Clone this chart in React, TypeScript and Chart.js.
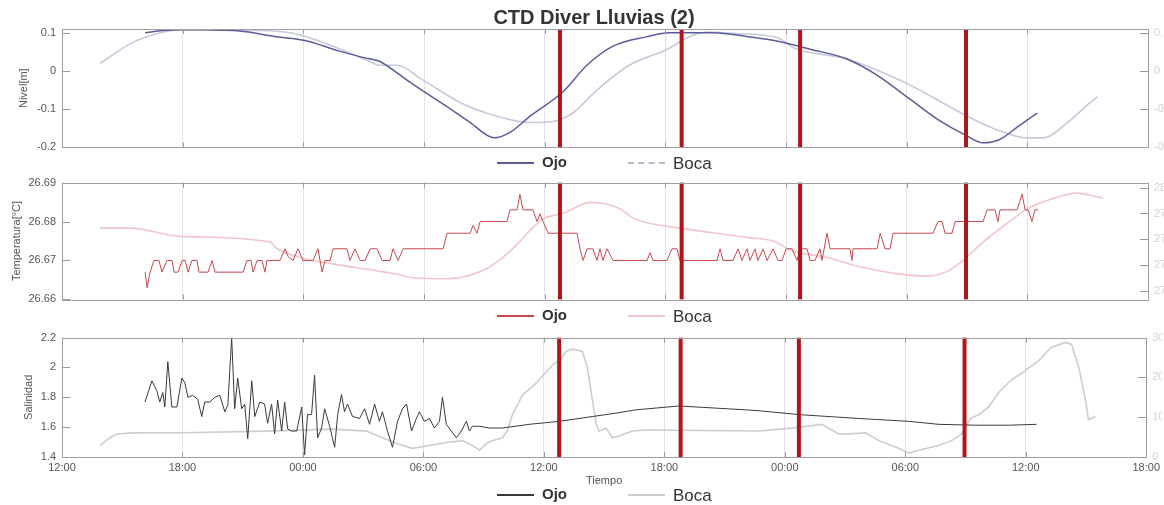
import React, { useEffect, useRef } from 'react';
import { Chart, registerables } from 'chart.js';

Chart.register(...registerables);

type Pt = [number, number];

const FONT = "'Liberation Sans', Arial, sans-serif";

// x axis: hours counted from 12:00 of the first day
const xTickHours = [0, 6, 12, 18, 24, 30, 36, 42, 48, 54];
const xTickLabels = ['12:00', '18:00', '00:00', '06:00', '12:00', '18:00', '00:00', '06:00', '12:00', '18:00'];
const eventHours = [24.76, 30.81, 36.7, 44.95];

const chartTitle = 'CTD Diver Lluvias (2)';
const legendOjo = 'Ojo';
const legendBoca = 'Boca';

// ---- Nivel ----
const nivelTicks = [-0.2, -0.1, 0, 0.1];
const nivelTickLabels = ['-0.2', '-0.1', '0', '0.1'];
const nivelOjo: Pt[] = [
  [4.13, 0.1], [5.0, 0.106], [6.0, 0.108], [7.0, 0.108], [8.95, 0.104], [10.64, 0.09], [12.08, 0.08],
  [13.8, 0.052], [15.0, 0.035], [15.81, 0.025], [16.66, -0.005], [17.46, -0.035], [19.14, -0.093],
  [20.3, -0.135], [21.5, -0.175], [22.3, -0.16], [23.3, -0.117], [24.9, -0.055], [26.1, 0.015],
  [27.4, 0.065], [29.1, 0.09], [30.2, 0.1], [32.4, 0.1], [34.1, 0.09], [35.6, 0.078], [37.2, 0.057],
  [39.0, 0.032], [40.5, -0.01], [42.2, -0.075], [43.5, -0.125], [45.0, -0.17], [45.8, -0.188],
  [46.6, -0.18], [47.6, -0.143], [48.5, -0.11],
];
const nivelBoca: Pt[] = [
  [1.89, 0.02], [3.53, 0.075], [4.9, 0.1], [5.9, 0.108], [8.95, 0.107], [11.34, 0.1], [13.48, 0.065],
  [15.17, 0.028], [15.81, 0.015], [16.66, 0.015], [17.9, -0.022], [19.9, -0.085], [21.6, -0.118],
  [23.3, -0.135], [24.4, -0.132], [25.4, -0.11], [26.6, -0.05], [28.2, 0.015], [30.1, 0.057],
  [31.2, 0.09], [32.1, 0.102], [33.5, 0.098], [35.6, 0.087], [36.4, 0.06], [39.0, 0.032],
  [41.7, -0.025], [43.0, -0.06], [45.0, -0.118], [46.3, -0.15], [48.0, -0.175], [48.8, -0.175],
  [50.0, -0.135], [51.3, -0.075], [51.5, -0.068],
];

// ---- Temperatura ----
const tempTicks = [26.66, 26.67, 26.68, 26.69];
const tempTickLabels = ['26.66', '26.67', '26.68', '26.69'];
const tempBocaTicks = [27.6, 27.7, 27.8, 27.9, 28.0];
const tempBocaTickLabels = ['27.6', '27.7', '27.8', '27.9', '28'];
const tempOjo: Pt[] = [
  [4.13, 26.667], [4.23, 26.663], [4.38, 26.667], [4.57, 26.67], [4.82, 26.67], [4.97, 26.667],
  [5.22, 26.67], [5.47, 26.67], [5.57, 26.667], [5.77, 26.667], [5.97, 26.67], [6.12, 26.67],
  [6.27, 26.667], [6.46, 26.67], [6.71, 26.67], [6.81, 26.667], [7.26, 26.667], [7.46, 26.67],
  [7.61, 26.667], [9.0, 26.667], [9.2, 26.67], [9.4, 26.67], [9.5, 26.667], [9.7, 26.67],
  [9.95, 26.67], [10.09, 26.667], [10.19, 26.67], [10.84, 26.67], [11.09, 26.673], [11.24, 26.671],
  [11.49, 26.67], [11.74, 26.673], [11.98, 26.67], [12.48, 26.67], [12.73, 26.673], [12.93, 26.667],
  [13.08, 26.67], [13.33, 26.67], [13.48, 26.673], [14.17, 26.673], [14.32, 26.67], [14.57, 26.673],
  [14.82, 26.67], [15.07, 26.67], [15.32, 26.673], [15.66, 26.673], [15.91, 26.67], [16.31, 26.67],
  [16.46, 26.673], [16.71, 26.67], [16.96, 26.673], [18.95, 26.673], [19.14, 26.677], [20.29, 26.677],
  [20.44, 26.679], [20.64, 26.677], [20.79, 26.68], [22.13, 26.68], [22.28, 26.683], [22.63, 26.683],
  [22.77, 26.687], [22.92, 26.683], [23.42, 26.683], [23.62, 26.68], [23.77, 26.682], [23.92, 26.68],
  [24.17, 26.677], [25.61, 26.677], [25.76, 26.673], [25.91, 26.67], [26.11, 26.673], [26.4, 26.673],
  [26.6, 26.67], [26.75, 26.673], [26.9, 26.67], [27.1, 26.673], [27.4, 26.67], [29.09, 26.67],
  [29.24, 26.672], [29.39, 26.67], [30.08, 26.67], [30.33, 26.673], [30.58, 26.673], [30.73, 26.67],
  [32.57, 26.67], [32.72, 26.673], [32.87, 26.67], [33.37, 26.67], [33.62, 26.673], [33.81, 26.67],
  [34.06, 26.673], [34.21, 26.67], [34.46, 26.673], [34.61, 26.67], [34.86, 26.673], [35.06, 26.67],
  [35.36, 26.673], [35.6, 26.67], [35.8, 26.67], [36.0, 26.673], [36.3, 26.673], [36.55, 26.67],
  [36.7, 26.673], [37.05, 26.673], [37.2, 26.67], [37.44, 26.67], [37.69, 26.673], [37.79, 26.67],
  [38.04, 26.677], [38.19, 26.673], [39.18, 26.673], [39.28, 26.67], [39.33, 26.673], [40.53, 26.673],
  [40.68, 26.677], [40.92, 26.673], [41.17, 26.673], [41.32, 26.677], [43.31, 26.677], [43.56, 26.68],
  [43.76, 26.68], [43.91, 26.677], [44.26, 26.677], [44.41, 26.68], [45.8, 26.68], [46.0, 26.683],
  [46.39, 26.683], [46.54, 26.68], [46.64, 26.683], [47.49, 26.683], [47.74, 26.687], [47.89, 26.683],
  [48.04, 26.683], [48.23, 26.68], [48.38, 26.683], [48.53, 26.683],
];
const tempBoca: Pt[] = [
  [1.89, 27.843], [3.38, 27.843], [5.87, 27.811], [10.34, 27.789], [10.69, 27.764], [11.84, 27.729],
  [13.48, 27.704], [15.81, 27.675], [16.66, 27.664], [17.46, 27.65], [19.14, 27.646], [20.14, 27.657],
  [21.28, 27.693], [22.43, 27.764], [23.42, 27.846], [23.92, 27.879], [24.62, 27.896], [25.11, 27.907],
  [25.76, 27.932], [26.26, 27.943], [27.1, 27.936], [27.75, 27.918], [28.4, 27.882], [29.09, 27.864],
  [30.73, 27.843], [32.37, 27.825], [34.06, 27.807], [35.36, 27.793], [36.35, 27.754], [38.04, 27.729],
  [39.69, 27.693], [41.32, 27.668], [43.02, 27.657], [44.01, 27.675], [44.81, 27.718], [45.8, 27.789],
  [46.99, 27.861], [47.99, 27.918], [49.13, 27.954], [50.48, 27.979], [51.27, 27.968], [51.77, 27.961],
];

// ---- Salinidad ----
const salTicks = [1.4, 1.6, 1.8, 2.0, 2.2];
const salTickLabels = ['1.4', '1.6', '1.8', '2', '2.2'];
const salBocaTicks = [0, 10, 20, 30];
const salBocaTickLabels = ['0', '10', '20', '30'];
const salOjo: Pt[] = [
  [4.13, 1.768], [4.48, 1.91], [4.72, 1.845], [4.87, 1.768], [5.02, 1.832], [5.12, 1.735], [5.27, 2.039],
  [5.47, 1.735], [5.72, 1.735], [5.97, 1.929], [6.12, 1.897], [6.27, 1.8], [6.51, 1.813], [6.76, 1.787],
  [6.96, 1.671], [7.11, 1.768], [7.36, 1.768], [7.61, 1.8], [7.86, 1.813], [8.11, 1.703], [8.26, 1.748],
  [8.45, 2.2], [8.6, 1.723], [8.75, 1.929], [8.95, 1.723], [9.1, 1.755], [9.25, 1.523], [9.45, 1.91],
  [9.6, 1.671], [9.85, 1.768], [10.09, 1.755], [10.24, 1.626], [10.44, 1.755], [10.59, 1.555],
  [10.74, 1.781], [10.94, 1.574], [11.09, 1.768], [11.24, 1.587], [11.44, 1.574], [11.69, 1.574],
  [11.94, 1.735], [12.08, 1.413], [12.23, 1.684], [12.43, 1.684], [12.58, 1.948], [12.73, 1.529],
  [12.93, 1.594], [13.08, 1.723], [13.33, 1.606], [13.58, 1.465], [13.73, 1.684], [13.92, 1.819],
  [14.07, 1.703], [14.22, 1.755], [14.47, 1.671], [14.82, 1.658], [15.07, 1.723], [15.32, 1.619],
  [15.57, 1.755], [15.81, 1.639], [15.96, 1.703], [16.21, 1.574], [16.46, 1.465], [16.71, 1.639],
  [16.96, 1.723], [17.16, 1.755], [17.41, 1.574], [17.65, 1.658], [17.8, 1.703], [18.05, 1.639],
  [18.3, 1.658], [18.55, 1.594], [18.8, 1.639], [18.95, 1.8], [19.14, 1.619], [19.39, 1.574],
  [19.64, 1.529], [19.89, 1.574], [20.14, 1.639], [20.29, 1.574], [20.44, 1.606], [20.79, 1.606],
  [21.28, 1.594], [21.93, 1.594], [23.27, 1.619], [24.77, 1.639], [26.41, 1.671], [27.4, 1.69],
  [28.59, 1.716], [30.73, 1.742], [32.37, 1.729], [34.06, 1.716], [34.71, 1.71], [36.7, 1.684],
  [39.69, 1.658], [42.17, 1.639], [43.66, 1.619], [45.5, 1.613], [47.14, 1.613], [48.54, 1.619],
];
const salBoca: Pt[] = [
  [1.89, 2.9], [2.39, 4.84], [2.74, 5.8], [3.53, 6.05], [6.0, 6.1], [10.19, 6.5], [13.48, 7.0],
  [15.17, 6.5], [15.96, 4.84], [16.66, 3.39], [17.46, 2.18], [18.3, 2.9], [19.14, 3.63], [19.94, 4.11],
  [20.44, 2.9], [20.79, 1.69], [21.14, 3.39], [21.43, 4.11], [21.93, 4.84], [22.18, 6.53], [22.43, 10.6],
  [22.93, 15.5], [23.62, 18.6], [24.42, 23.0], [24.87, 24.7], [25.11, 26.6], [25.41, 27.1], [25.91, 26.6],
  [26.16, 22.7], [26.41, 14.5], [26.61, 8.2], [26.75, 6.5], [27.1, 7.3], [27.4, 4.84], [27.75, 5.3],
  [28.4, 6.53], [29.09, 6.77], [34.71, 6.53], [36.35, 7.26], [37.84, 8.2], [38.69, 5.8], [39.19, 5.8],
  [40.03, 6.05], [40.68, 4.11], [41.67, 2.18], [42.17, 0.97], [42.67, 1.69], [43.66, 2.9], [44.31, 4.11],
  [44.81, 5.8], [45.25, 9.7], [45.65, 10.6], [46.15, 12.6], [46.65, 16.2], [47.29, 19.4], [47.79, 21.0],
  [48.64, 24.2], [49.28, 27.6], [49.98, 28.8], [50.28, 28.3], [50.63, 22.7], [50.97, 14.5], [51.12, 9.4],
  [51.47, 10.2],
];

interface PanelSpec {
  top: number;
  height: number;
  padTop: number;
  xAxisHeight: number;
  showX: boolean;
  yTitle: string;
  yTitlePad: number;
  yMin: number;
  yMax: number;
  yTicks: number[];
  yLabels: string[];
  rMin: number;
  rMax: number;
  rTicks: number[];
  rLabels: string[];
  ojo: Pt[];
  boca: Pt[];
  ojoColor: string;
  bocaColor: string;
  ojoWidth: number;
  bocaWidth: number;
  ojoSmooth: boolean;
  bocaSmooth: boolean;
}

const panels: PanelSpec[] = [
  {
    top: 0, height: 160, padTop: 29, xAxisHeight: 6, showX: false,
    yTitle: 'Nivel[m]', yTitlePad: 17,
    yMin: -0.2, yMax: 0.11, yTicks: nivelTicks, yLabels: nivelTickLabels,
    rMin: -0.2, rMax: 0.11, rTicks: nivelTicks, rLabels: nivelTickLabels,
    ojo: nivelOjo, boca: nivelBoca, ojoColor: '#5b5b9e', bocaColor: '#c8c8dc',
    ojoWidth: 1.5, bocaWidth: 1.6, ojoSmooth: true, bocaSmooth: true,
  },
  {
    top: 170, height: 142, padTop: 9, xAxisHeight: 6, showX: false,
    yTitle: 'Temperatura[°C]', yTitlePad: 10,
    yMin: 26.66, yMax: 26.69, yTicks: tempTicks, yLabels: tempTickLabels,
    rMin: 27.566, rMax: 28.02, rTicks: tempBocaTicks, rLabels: tempBocaTickLabels,
    ojo: tempOjo, boca: tempBoca, ojoColor: '#c9474f', bocaColor: '#f1c6ca',
    ojoWidth: 1, bocaWidth: 1.6, ojoSmooth: false, bocaSmooth: true,
  },
  {
    top: 325, height: 180, padTop: 8, xAxisHeight: 48, showX: true,
    yTitle: 'Salinidad', yTitlePad: 22,
    yMin: 1.4, yMax: 2.2, yTicks: salTicks, yLabels: salTickLabels,
    rMin: 0, rMax: 30, rTicks: salBocaTicks, rLabels: salBocaTickLabels,
    ojo: salOjo, boca: salBoca, ojoColor: '#3a3a3a', bocaColor: '#cdcdcd',
    ojoWidth: 1, bocaWidth: 1.6, ojoSmooth: false, bocaSmooth: false,
  },
];

const framePlugin = {
  id: 'frame',
  afterDatasetsDraw(chart: any) {
    const { ctx, chartArea, scales } = chart;
    const { left, right, top, bottom } = chartArea;
    ctx.save();
    // event markers
    ctx.strokeStyle = '#b3141c';
    ctx.lineWidth = 4;
    eventHours.forEach((h) => {
      const px = scales.x.getPixelForValue(h);
      ctx.beginPath();
      ctx.moveTo(px, top);
      ctx.lineTo(px, bottom);
      ctx.stroke();
    });
    // inner tick marks
    ctx.strokeStyle = '#9a9a9a';
    ctx.lineWidth = 1;
    scales.y.ticks.forEach((t: any) => {
      const py = Math.round(scales.y.getPixelForValue(t.value)) + 0.5;
      ctx.beginPath();
      ctx.moveTo(left, py);
      ctx.lineTo(left + 8, py);
      ctx.stroke();
    });
    scales.y1.ticks.forEach((t: any) => {
      const py = Math.round(scales.y1.getPixelForValue(t.value)) + 0.5;
      ctx.beginPath();
      ctx.moveTo(right - 8, py);
      ctx.lineTo(right, py);
      ctx.stroke();
    });
    scales.x.ticks.forEach((t: any) => {
      const px = Math.round(scales.x.getPixelForValue(t.value)) + 0.5;
      ctx.beginPath();
      ctx.moveTo(px, top);
      ctx.lineTo(px, top + 5);
      ctx.moveTo(px, bottom);
      ctx.lineTo(px, bottom - 5);
      ctx.stroke();
    });
    // box
    ctx.strokeStyle = '#a0a0a0';
    ctx.strokeRect(Math.round(left) + 0.5, Math.round(top) + 0.5, Math.round(right - left), Math.round(bottom - top));
    ctx.restore();
  },
};

function Panel({ spec }: { spec: PanelSpec }) {
  const ref = useRef<HTMLCanvasElement>(null);
  useEffect(() => {
    if (!ref.current) return;
    const tickFont = { family: FONT, size: 11 };
    const chart = new Chart(ref.current, {
      type: 'line',
      data: {
        datasets: [
          {
            label: legendOjo,
            data: spec.ojo.map(([x, y]) => ({ x, y })),
            yAxisID: 'y',
            borderColor: spec.ojoColor,
            borderWidth: spec.ojoWidth,
            pointRadius: 0,
            cubicInterpolationMode: spec.ojoSmooth ? 'monotone' : 'default',
            tension: 0,
          },
          {
            label: legendBoca,
            data: spec.boca.map(([x, y]) => ({ x, y })),
            yAxisID: 'y1',
            borderColor: spec.bocaColor,
            borderWidth: spec.bocaWidth,
            pointRadius: 0,
            cubicInterpolationMode: spec.bocaSmooth ? 'monotone' : 'default',
            tension: 0,
          },
        ],
      },
      options: {
        responsive: false,
        animation: false,
        events: [],
        layout: { padding: { top: spec.padTop, left: 0, right: 0, bottom: 0 } },
        plugins: { legend: { display: false }, tooltip: { enabled: false }, title: { display: false } },
        scales: {
          x: {
            type: 'linear',
            position: 'bottom',
            min: 0,
            max: 54,
            afterBuildTicks: (s: any) => {
              s.ticks = xTickHours.map((v) => ({ value: v }));
            },
            afterFit: (s: any) => {
              s.height = spec.xAxisHeight;
            },
            ticks: {
              display: spec.showX,
              autoSkip: false,
              maxRotation: 0,
              padding: 4,
              color: '#555',
              font: tickFont,
              callback: (_v: any, i: number) => xTickLabels[i],
            },
            grid: { display: true, drawTicks: false, color: '#e2e2e2', lineWidth: 1 },
            border: { display: false },
            title: {
              display: spec.showX,
              text: 'Tiempo',
              color: '#555',
              font: { family: FONT, size: 11 },
              padding: { top: 0, bottom: 17 },
            },
          },
          y: {
            type: 'linear',
            position: 'left',
            min: spec.yMin,
            max: spec.yMax,
            afterBuildTicks: (s: any) => {
              s.ticks = spec.yTicks.map((v) => ({ value: v }));
            },
            afterFit: (s: any) => {
              s.width = 62;
            },
            ticks: {
              padding: 6,
              color: '#555',
              font: tickFont,
              callback: (_v: any, i: number) => spec.yLabels[i],
            },
            grid: { display: false, drawTicks: false },
            border: { display: false },
            title: {
              display: true,
              text: spec.yTitle,
              color: '#555',
              font: { family: FONT, size: 11 },
              padding: { top: spec.yTitlePad, bottom: 0 },
            },
          },
          y1: {
            type: 'linear',
            position: 'right',
            min: spec.rMin,
            max: spec.rMax,
            afterBuildTicks: (s: any) => {
              s.ticks = spec.rTicks.map((v) => ({ value: v }));
            },
            afterFit: (s: any) => {
              s.width = 16;
            },
            ticks: {
              padding: 6,
              color: '#d2d2d2',
              font: tickFont,
              callback: (_v: any, i: number) => spec.rLabels[i],
            },
            grid: { display: false, drawTicks: false },
            border: { display: false },
          },
        },
      } as any,
      plugins: [framePlugin],
    });
    return () => chart.destroy();
  }, [spec]);
  return (
    <canvas
      ref={ref}
      width={1164}
      height={spec.height}
      style={{ position: 'absolute', left: 0, top: spec.top, width: 1164, height: spec.height }}
    />
  );
}

function Legend({ y, ojoColor, bocaColor, dashed }: { y: number; ojoColor: string; bocaColor: string; dashed: boolean }) {
  return (
    <>
      <div style={{ position: 'absolute', left: 497, top: y - 1, width: 37, borderTop: `2px solid ${ojoColor}` }} />
      <div
        style={{
          position: 'absolute', left: 542, top: y - 10, fontFamily: FONT, fontWeight: 'bold', fontSize: 15,
          lineHeight: '18px', color: '#333', whiteSpace: 'nowrap',
        }}
      >
        {legendOjo}
      </div>
      <div
        style={{
          position: 'absolute', left: 628, top: y - 1, width: 37,
          borderTop: `2px ${dashed ? 'dashed' : 'solid'} ${bocaColor}`,
        }}
      />
      <div
        style={{
          position: 'absolute', left: 673, top: y - 9, fontFamily: FONT, fontSize: 17,
          lineHeight: '20px', color: '#333', whiteSpace: 'nowrap',
        }}
      >
        {legendBoca}
      </div>
    </>
  );
}

export default function App() {
  return (
    <div
      style={{
        position: 'fixed', left: 0, top: 0, width: 1164, height: 505, background: '#fff', overflow: 'hidden',
      }}
    >
      {panels.map((p, i) => (
        <Panel key={i} spec={p} />
      ))}
      <div
        style={{
          position: 'absolute', left: 0, width: 1188, top: 5, textAlign: 'center', fontFamily: FONT,
          fontWeight: 'bold', fontSize: 20, lineHeight: '24px', color: '#333', whiteSpace: 'nowrap',
        }}
      >
        {chartTitle}
      </div>
      <Legend y={163} ojoColor="#5b5b9e" bocaColor="#b8b8c8" dashed={true} />
      <Legend y={316} ojoColor="#c9474f" bocaColor="#f1c6ca" dashed={false} />
      <Legend y={495} ojoColor="#3a3a3a" bocaColor="#cdcdcd" dashed={false} />
    </div>
  );
}
